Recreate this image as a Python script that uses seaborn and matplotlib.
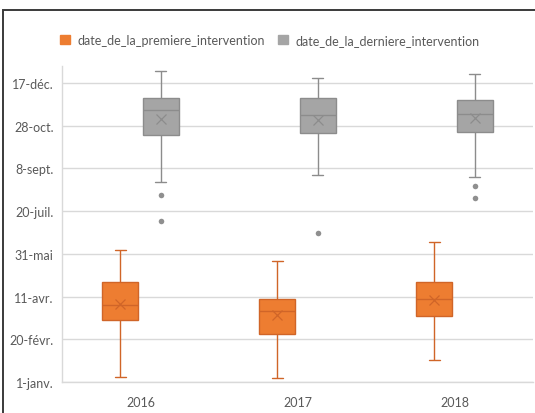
import matplotlib
matplotlib.use("Agg")
import matplotlib.pyplot as plt
from matplotlib.patches import Patch, Rectangle
import pandas as pd
import seaborn as sns

# Categories
years = ["2016", "2017", "2018"]
series = ["date_de_la_premiere_intervention", "date_de_la_derniere_intervention"]

# Values are days of the year (1 = 1 janvier)
premiere_low = [6.5, 5.5, 27]
premiere_q1 = [73.5, 57, 78.5]
premiere_median = [91, 84, 98.5]
premiere_q3 = [118.5, 98, 118]
premiere_high = [155, 143, 165]
premiere_mean = [92, 79, 97]
premiere_outliers = [[], [], []]

derniere_low = [235.5, 243, 240.5]
derniere_q1 = [290, 292.5, 294]
derniere_median = [319, 313.5, 315]
derniere_q3 = [333.5, 334, 331]
derniere_high = [365, 357, 362]
derniere_mean = [309, 308, 310]
derniere_outliers = [[220, 189], [176], [231, 216]]

tick_days = [1, 51, 101, 151, 201, 251, 301, 351]
tick_labels = ["1-janv.", "20-févr.", "11-avr.", "31-mai", "20-juil.",
               "8-sept.", "28-oct.", "17-déc."]

# Long tables built from the lists above
five_numbers = {
    series[0]: (premiere_low, premiere_q1, premiere_median, premiere_q3, premiere_high),
    series[1]: (derniere_low, derniere_q1, derniere_median, derniere_q3, derniere_high),
}
means = {series[0]: premiere_mean, series[1]: derniere_mean}
outliers = {series[0]: premiere_outliers, series[1]: derniere_outliers}

box_rows, mean_rows, out_rows = [], [], []
for name in series:
    for i, year in enumerate(years):
        for col in five_numbers[name]:
            box_rows.append({"year": year, "series": name, "day": col[i]})
        mean_rows.append({"year": year, "series": name, "day": means[name][i]})
        for rank, v in enumerate(outliers[name][i]):
            out_rows.append({"year": year, "series": name, "day": v, "rank": rank})
box_df = pd.DataFrame(box_rows)
mean_df = pd.DataFrame(mean_rows)
out_df = pd.DataFrame(out_rows)

sns.set_style("white")
plt.rcParams["font.family"] = ["Lato", "DejaVu Sans"]

fills = {series[0]: "#ED7D31", series[1]: "#A5A5A5"}
edges = {series[0]: "#D06528", series[1]: "#8C8C8C"}
dots = {series[0]: "#D06528", series[1]: "#8F8F8F"}
text_color = "#595959"

fig = plt.figure(figsize=(5.35, 4.14), dpi=100)
ax = fig.add_axes([62 / 535, 1 - 383 / 414, (533 - 62) / 535, (383 - 67) / 414])

box_width = 0.512
for name in series:
    sns.boxplot(data=box_df[box_df["series"] == name], x="year", y="day",
                hue="series", order=years, hue_order=series, palette=fills,
                saturation=1, dodge=True, width=box_width, gap=0.1,
                whis=(0, 100), linecolor=edges[name], linewidth=1.0,
                fliersize=0, capwidths=0.065, legend=False, ax=ax)

# Mean markers
sns.pointplot(data=mean_df, x="year", y="day", hue="series", order=years,
              hue_order=series, palette=edges, dodge=box_width / 2,
              markers="x", linestyle="none", errorbar=None,
              markersize=6.5, markeredgewidth=0.9, legend=False, ax=ax)

# Outlier points
for rank, sub in out_df.groupby("rank"):
    sns.pointplot(data=sub, x="year", y="day", hue="series", order=years,
                  hue_order=series, palette=dots, dodge=box_width / 2,
                  markers="o", linestyle="none", errorbar=None,
                  markersize=4, markeredgewidth=0, legend=False, ax=ax)

ax.set_xlim(-0.5, 2.5)
ax.set_ylim(1, 371)
ax.set_yticks(tick_days, tick_labels)
ax.set_xlabel("")
ax.set_ylabel("")
ax.grid(axis="y", color="#D9D9D9", linewidth=1.0)
ax.set_axisbelow(True)
for s in ["top", "right"]:
    ax.spines[s].set_visible(False)
for s in ["left", "bottom"]:
    ax.spines[s].set_color("#D9D9D9")
    ax.spines[s].set_linewidth(1.0)
ax.tick_params(length=0, colors=text_color, labelsize=9)
ax.tick_params(axis="x", pad=10)
ax.tick_params(axis="y", pad=6)

handles = [Patch(facecolor=fills[s], edgecolor=fills[s], label=s) for s in series]
fig.legend(handles=handles, loc="center", bbox_to_anchor=(0.504, 0.901), ncol=2,
           frameon=False, handlelength=0.8, handleheight=0.8, handletextpad=0.6,
           columnspacing=1.0, fontsize=9, labelcolor=text_color)

# Outer chart frame
fig.add_artist(Rectangle((3 / 535, -0.1), 1.2, 1 - 11 / 414 + 0.1,
                         transform=fig.transFigure, fill=False,
                         edgecolor="#3A3A3A", linewidth=1.4))

fig.savefig("out.png", dpi=100)
